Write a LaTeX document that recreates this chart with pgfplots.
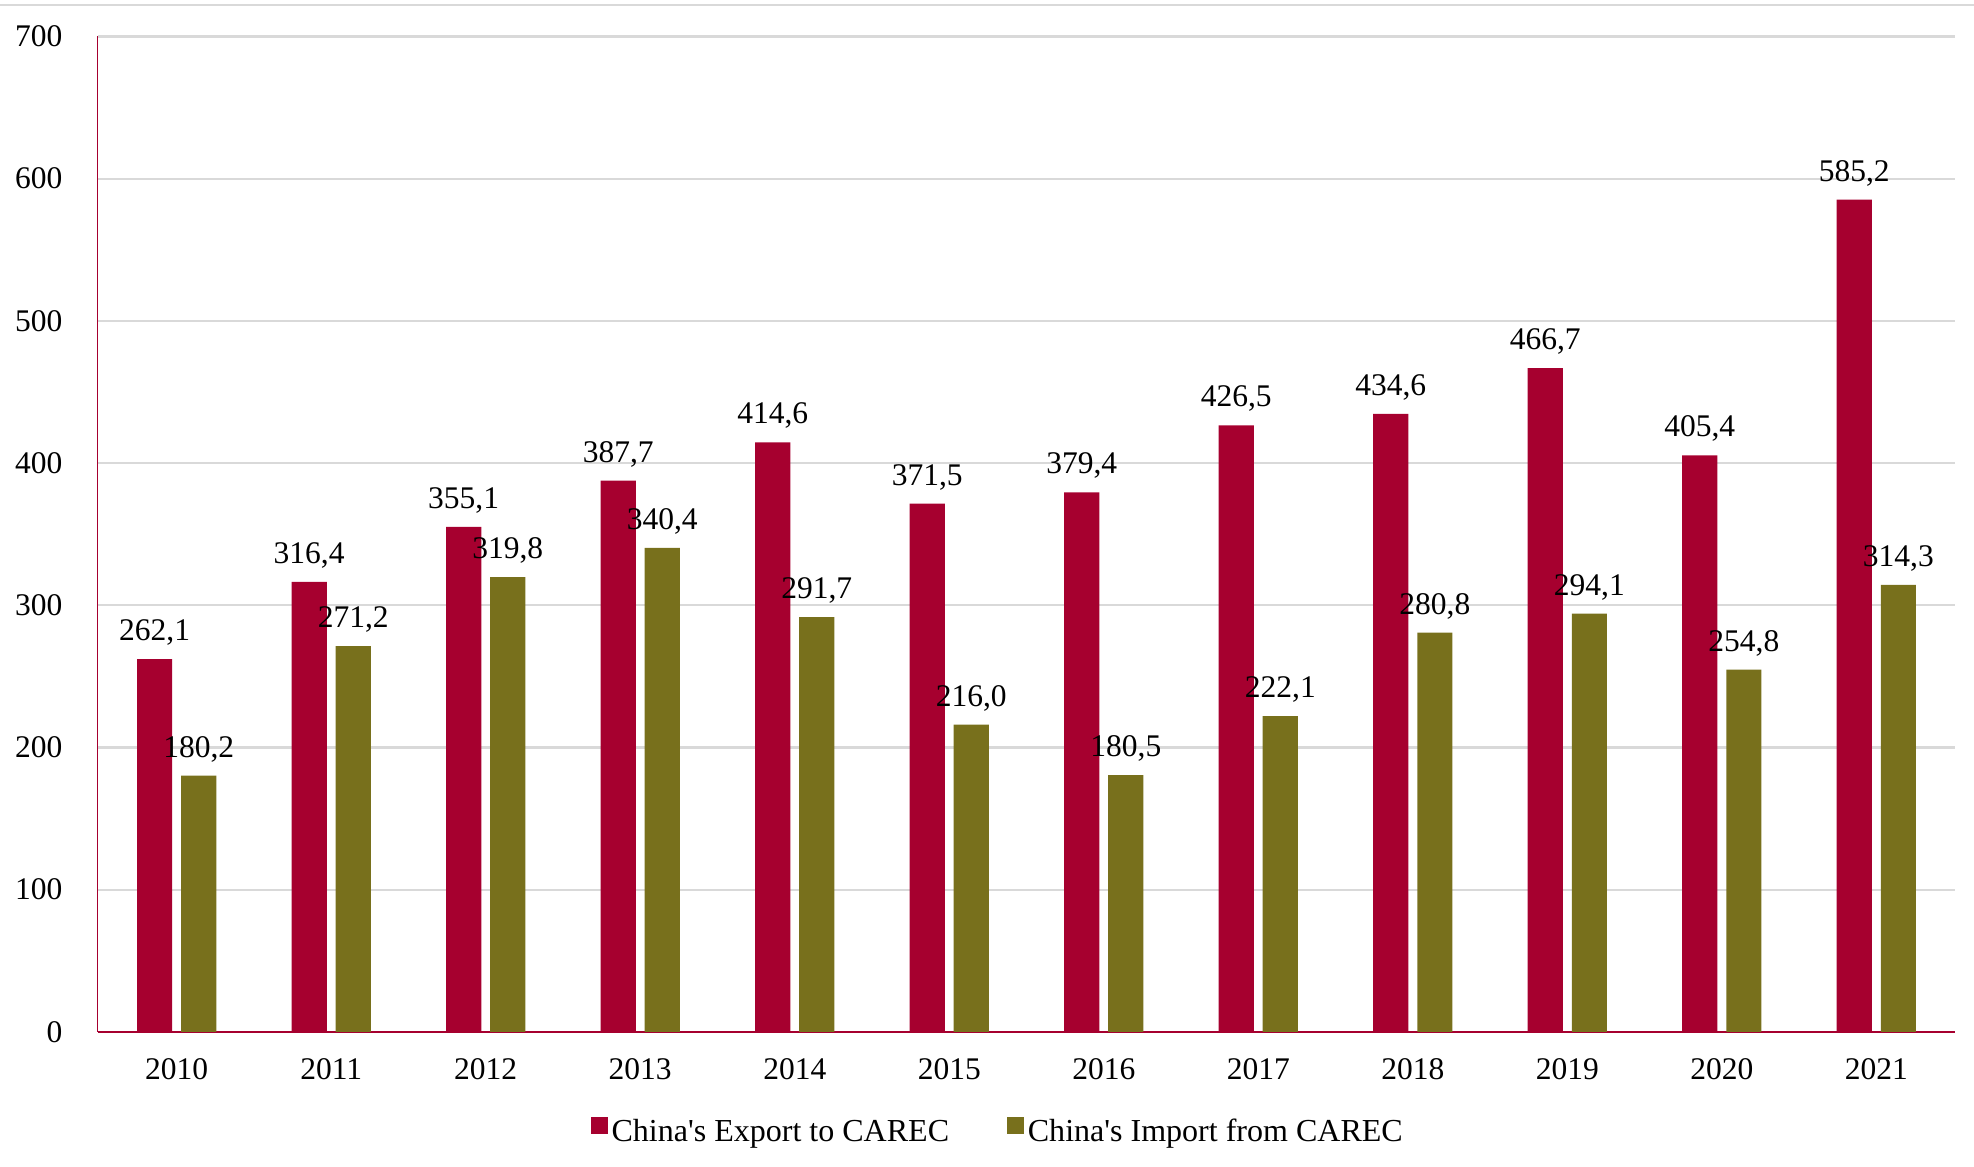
\documentclass[border=0pt,12pt]{standalone}
\usepackage{fontspec}
\setmainfont{Liberation Serif}
\usepackage{pgfplots}
\pgfplotsset{compat=1.18}
\usetikzlibrary{calc}

\definecolor{exportred}{HTML}{A6002F}
\definecolor{importolive}{HTML}{78701C}
\definecolor{gridgray}{HTML}{D9D9D9}

% values in USD bn
\pgfplotstableread{
x year export import
0 2010 262.1 180.2
1 2011 316.4 271.2
2 2012 355.1 319.8
3 2013 387.7 340.4
4 2014 414.6 291.7
5 2015 371.5 216.0
6 2016 379.4 180.5
7 2017 426.5 222.1
8 2018 434.6 280.8
9 2019 466.7 294.1
10 2020 405.4 254.8
11 2021 585.2 314.3
}\tradedata

\begin{document}
\begin{tikzpicture}
\begin{axis}[
    name=ax,
    scale only axis,
    width=707.5pt,
    height=379.2pt,
    ybar=3.4pt,
    bar width=13.4pt,
    xmin=-0.51, xmax=11.51,
    ymin=0, ymax=700,
    ytick={0,100,...,700},
    xtick={0,...,11},
    xticklabels={2010,2011,2012,2013,2014,2015,2016,2017,2018,2019,2020,2021},
    major tick length=0pt,
    axis x line*=bottom,
    axis y line*=left,
    axis line style={draw=exportred},
    x axis line style={line width=0.9pt},
    y axis line style={line width=0.4pt},
    ymajorgrids,
    grid style={draw=gridgray, line width=0.8pt},
    /pgf/number format/assume math mode=true,
    tick label style={font=\normalsize},
    xticklabel style={yshift=-6pt},
    yticklabel style={xshift=-9.3pt},
    nodes near coords,
    nodes near coords style={
        font=\normalsize, text=black, anchor=south, yshift=1pt,
        /pgf/number format/.cd, fixed, fixed zerofill, precision=1, use comma,
        assume math mode=true},
    legend columns=2,
    legend style={
        at={(0.485,0)}, anchor=center, yshift=-38.3pt,
        draw=none, font=\fontsize{12.2}{14}\selectfont,
        /tikz/every even column/.append style={column sep=20.5pt},
        nodes={inner sep=1.5pt}},
    legend image code/.code={\fill[#1] (-0.8pt,-0.5pt) rectangle (5.7pt,6pt);},
    clip=false,
]
\addplot[fill=exportred, draw=none] table[x=x, y=export] {\tradedata};
\addlegendentry{China\textquotesingle s Export to CAREC}
\addplot[fill=importolive, draw=none] table[x=x, y=import] {\tradedata};
\addlegendentry{China\textquotesingle s Import from CAREC}
\end{axis}
% thin rule along the top edge of the figure
\draw[gridgray, line width=1pt] ($(ax.north west)+(-37.3pt,12pt)$) -- ($(ax.north east)+(7.2pt,12pt)$);
\pgfresetboundingbox
\path ($(ax.south west)+(-37.3pt,-51.4pt)$) rectangle ($(ax.north east)+(7.2pt,13.9pt)$);
\end{tikzpicture}
\end{document}
